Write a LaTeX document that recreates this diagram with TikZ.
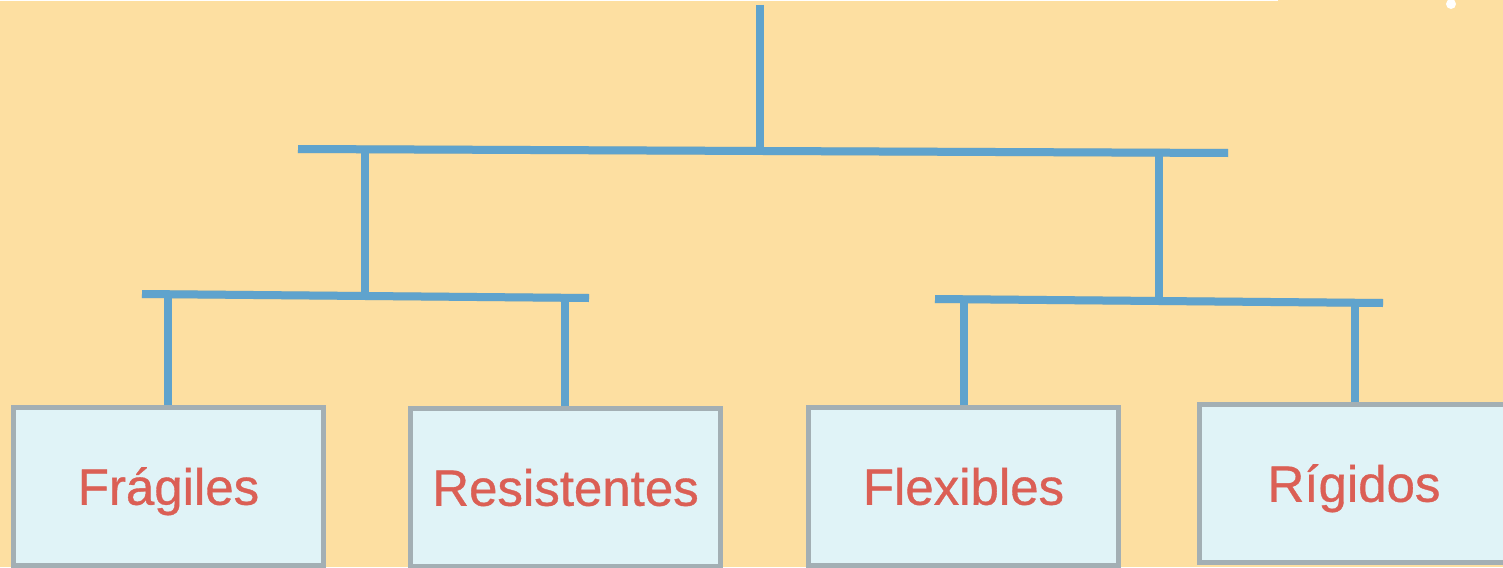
\documentclass[tikz,border=0pt]{standalone}
\usepackage{fontspec}
\setmainfont{Liberation Sans}
\newfontfamily\boxfont[FakeBold=0.7]{Liberation Sans}
\definecolor{bgc}{HTML}{FDDFA1}
\definecolor{linec}{HTML}{5FA3CD}
\definecolor{boxfill}{HTML}{E0F3F7}
\definecolor{boxdraw}{HTML}{A3AFB4}
\definecolor{txtc}{HTML}{DB5F55}
\definecolor{shadowc}{HTML}{B89A60}
\begin{document}
\begin{tikzpicture}[x=1pt,y=-1pt,
  conn/.style={draw=linec,line width=8pt},
  connshadow/.style={draw=shadowc,line width=8pt,opacity=0.35},
  catbox/.style={draw=boxdraw,fill=boxfill,line width=5pt,inner sep=0pt,
    minimum width=310pt,minimum height=158pt,text=txtc,
    text height=36.5pt,text depth=0pt,
    font=\boxfont\fontsize{51}{51}\selectfont}]
\useasboundingbox (0,0) rectangle (1503,567);
\fill[bgc] (0,0) rectangle (1503,567);
\fill[white] (0,0) rectangle (1278,1.5);
\fill[white] (1451,4) circle (5);
% boxes
\node[catbox] (fra) at (168.5,486.5) {Frágiles};
\node[catbox] (res) at (565.5,487.5) {Resistentes};
\node[catbox] (fle) at (963.5,486.5) {Flexibles};
\node[catbox] (rig) at (1354,483.5) {Rígidos};
% junction coordinates
\coordinate (top) at (760,5);
\coordinate (tL) at (298,149);
\coordinate (tR) at (1228,153);
\coordinate (tM) at (760,151);
\coordinate (tA) at (365,149.5);
\coordinate (tB) at (1159,152.5);
\coordinate (lL) at (142,294);
\coordinate (lR) at (589,298);
\coordinate (lM) at (365,296);
\coordinate (lA) at (168,294.5);
\coordinate (lB) at (565,298);
\coordinate (rL) at (935,299);
\coordinate (rR) at (1383,303);
\coordinate (rM) at (1159,301);
\coordinate (rA) at (964,299.5);
\coordinate (rB) at (1355,303);
% shadows
\begin{scope}[shift={(2,4)}]
\draw[connshadow] (top) -- (tM);
\draw[connshadow] (tL) -- (tR);
\draw[connshadow] (tA) -- (lM);
\draw[connshadow] (tB) -- (rM);
\draw[connshadow] (lL) -- (lR);
\draw[connshadow] (rL) -- (rR);
\end{scope}
% connectors
\draw[conn] (top) -- (tM);
\draw[conn] (tL) -- (tR);
\draw[conn] (tA) -- (lM);
\draw[conn] (tB) -- (rM);
\draw[conn] (lL) -- (lR);
\draw[conn] (rL) -- (rR);
\draw[conn] (lA) -- (fra.north -| lA);
\draw[conn] (lB) -- (res.north -| lB);
\draw[conn] (rA) -- (fle.north -| rA);
\draw[conn] (rB) -- (rig.north -| rB);
\end{tikzpicture}
\end{document}
